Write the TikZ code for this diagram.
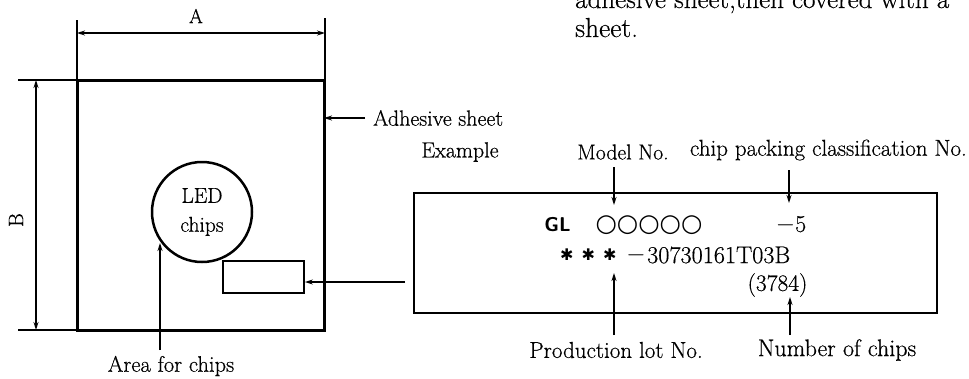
\documentclass[tikz,border=0pt]{standalone}
\usepackage{fontspec}
\setmainfont{Latin Modern Roman}[UprightFeatures={FakeBold=0.5}]
\newfontfamily\dejavu{DejaVu Sans}
\usetikzlibrary{arrows.meta}
\begin{document}
\begin{tikzpicture}[x=1pt,y=-1pt,
  lbl/.style={inner sep=0pt, font=\fontsize{22}{26}\selectfont},
  arr/.style={-{Stealth[length=8pt,width=5pt]}, line width=1.3pt},
  dimarr/.style={{Stealth[length=8pt,width=5pt]}-{Stealth[length=8pt,width=5pt]}, line width=1.2pt},
  extline/.style={line width=1.2pt},
  boxline/.style={draw, line width=1.8pt, inner sep=0pt}]
\clip (0,0) rectangle (969,378);
% top running text (cut off by the page, as in the original)
\node[lbl, font=\fontsize{27}{31}\selectfont, anchor=base west] (topline) at (575,8) {adhesive sheet,then covered with a};
\node[lbl, font=\fontsize{27.5}{31}\selectfont, anchor=base west] (sheetword) at (575,37) {sheet.};
% adhesive sheet
\node[draw, line width=3pt, inner sep=0pt, outer sep=0pt, minimum width=247pt, minimum height=250pt, anchor=north west] (sheet) at (77,80) {};
% dimension A
\coordinate (a1) at (77,20);
\coordinate (a2) at (325,18);
\draw[extline] (a1) -- (a1 |- sheet.north);
\draw[extline] (a2) -- (a2 |- sheet.north);
\coordinate (a1m) at (77,33);
\coordinate (a2m) at (325,33);
\draw[dimarr] (a1m) -- (a2m);
\node[lbl, font=\fontsize{20}{22}\selectfont] (labA) at (196,16) {A};
% dimension B
\coordinate (b1) at (18,80);
\coordinate (b2) at (18,330);
\draw[extline] (b1) -- (b1 -| sheet.west);
\draw[extline] (b2) -- (b2 -| sheet.west);
\coordinate (b1m) at (36,80);
\coordinate (b2m) at (36,330);
\draw[dimarr] (b1m) -- (b2m);
\node[lbl, font=\fontsize{21}{22}\selectfont, rotate=90] (labB) at (16,220) {B};
% LED chips
\node[draw, circle, line width=2.5pt, minimum size=100pt, inner sep=0pt, align=center, font=\fontsize{21.5}{29}\selectfont] (chips) at (202,212) {LED\\chips};
% area for chips
\node[lbl, font=\fontsize{22.5}{26}\selectfont] (area) at (171,366) {Area for chips};
\coordinate (ar1) at (160,350);
\coordinate (ar2) at (160,243);
\draw[arr] (ar1) -- (ar2);
% small tag
\node[boxline, minimum width=81pt, minimum height=32pt] (tag) at (263.5,277) {};
% adhesive sheet label
\node[lbl, anchor=west] (adh) at (373,118) {Adhesive sheet};
\draw[arr] ([xshift=-8pt]adh.west) -- (adh.west -| sheet.east);
% label box
\node[boxline, minimum width=523pt, minimum height=120pt] (label) at (675.5,253) {};
\coordinate (tagsrc) at (405,282);
\draw[arr] (tagsrc) -- (tagsrc -| tag.east);
% labels above
\node[lbl] (example) at (460,152) {Example};
\node[lbl, font=\fontsize{21.7}{26}\selectfont] (model) at (623,152) {Model No.};
\node[lbl, font=\fontsize{23}{26}\selectfont, anchor=east] (cpc) at (967,150) {chip packing classification No.};
\coordinate (m1) at (614,167);
\coordinate (m2) at (614,205);
\draw[arr] (m1) -- (m2);
\coordinate (c1) at (789,170);
\coordinate (c2) at (789,203);
\draw[arr] (c1) -- (c2);
% label contents
\node[lbl, font=\fontsize{20}{20}\selectfont\sffamily\bfseries] (gl) at (557.5,225) {GL};
\node[lbl, font=\fontsize{24.5}{26}\selectfont\dejavu] (circ) at (649,225) {○○○○○};
\node[lbl, font=\fontsize{24}{22}\selectfont] (m5) at (791,225) {$-$5};
\node[lbl, font=\fontsize{16}{16}\selectfont\dejavu\bfseries, anchor=west] (stars) at (560,255) {✱\hspace{8pt}✱\hspace{8pt}✱};
\node[lbl, font=\fontsize{27}{22}\selectfont] (lotminus) at (636,255) {$-$};
\node[lbl, font=\fontsize{24.2}{22}\selectfont, anchor=west] (lotnum) at (647,255) {30730161T03B};
\node[lbl, font=\fontsize{23.5}{22}\selectfont] (count) at (777.5,285) {(3784)};
% labels below
\node[lbl, font=\fontsize{23}{26}\selectfont] (prod) at (616,350) {Production lot No.};
\node[lbl, font=\fontsize{24}{26}\selectfont] (num) at (837,350) {Number of chips};
\coordinate (p1) at (614,335);
\coordinate (p2) at (614,273);
\draw[arr] (p1) -- (p2);
\coordinate (n1) at (790,335);
\coordinate (n2) at (790,297);
\draw[arr] (n1) -- (n2);
\end{tikzpicture}
\end{document}
